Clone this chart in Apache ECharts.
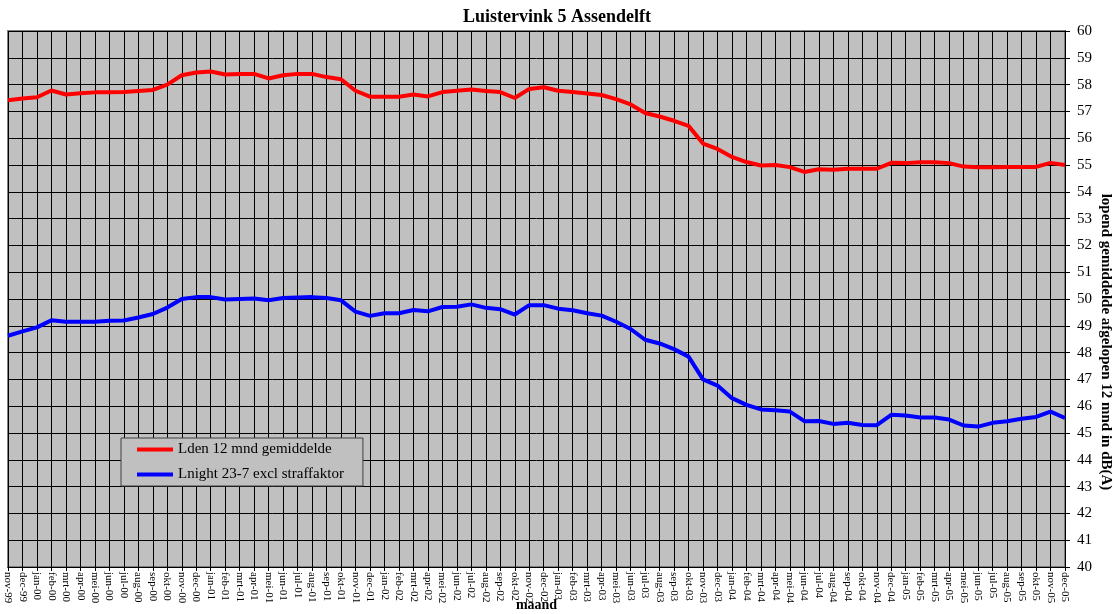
<!DOCTYPE html>
<html>
<head>
<meta charset="utf-8">
<script src="https://cdn.jsdelivr.net/npm/echarts@6/dist/echarts.min.js"></script>
<style>
html,body{margin:0;padding:0;background:#fff;}
#chart{width:1114px;height:614px;}
</style>
</head>
<body>
<div id="chart"></div>
<script>
const months = [
  'nov-99','dec-99',
  'jan-00','feb-00','mrt-00','apr-00','mei-00','jun-00','jul-00','aug-00','sep-00','okt-00','nov-00','dec-00',
  'jan-01','feb-01','mrt-01','apr-01','mei-01','jun-01','jul-01','aug-01','sep-01','okt-01','nov-01','dec-01',
  'jan-02','feb-02','mrt-02','apr-02','mei-02','jun-02','jul-02','aug-02','sep-02','okt-02','nov-02','dec-02',
  'jan-03','feb-03','mrt-03','apr-03','mei-03','jun-03','jul-03','aug-03','sep-03','okt-03','nov-03','dec-03',
  'jan-04','feb-04','mrt-04','apr-04','mei-04','jun-04','jul-04','aug-04','sep-04','okt-04','nov-04','dec-04',
  'jan-05','feb-05','mrt-05','apr-05','mei-05','jun-05','jul-05','aug-05','sep-05','okt-05','nov-05','dec-05'
];

const lden = [
  57.42,57.48,
  57.53,57.78,57.63,57.68,57.71,57.71,57.72,57.76,57.80,58.00,58.35,58.45,
  58.49,58.38,58.40,58.40,58.23,58.35,58.40,58.40,58.28,58.20,57.77,57.55,
  57.55,57.55,57.63,57.56,57.72,57.77,57.82,57.76,57.72,57.50,57.84,57.90,
  57.77,57.72,57.67,57.61,57.46,57.26,56.94,56.81,56.65,56.46,55.80,55.60,
  55.30,55.11,54.98,55.00,54.92,54.74,54.84,54.82,54.86,54.86,54.86,55.08,
  55.07,55.10,55.10,55.07,54.94,54.92,54.92,54.93,54.93,54.93,55.08,55.00
];

const lnight = [
  48.63,48.79,
  48.94,49.21,49.15,49.15,49.15,49.19,49.20,49.31,49.44,49.68,50.00,50.07,
  50.07,49.98,50.00,50.02,49.95,50.04,50.06,50.07,50.04,49.95,49.53,49.37,
  49.47,49.47,49.59,49.54,49.70,49.71,49.80,49.67,49.62,49.42,49.77,49.77,
  49.64,49.58,49.47,49.38,49.15,48.88,48.48,48.34,48.13,47.85,47.00,46.77,
  46.30,46.05,45.88,45.85,45.80,45.44,45.45,45.34,45.38,45.30,45.29,45.68,
  45.65,45.58,45.58,45.50,45.28,45.24,45.38,45.44,45.53,45.60,45.80,45.56
];

const seriesNames = ['Lden 12 mnd gemiddelde', 'Lnight 23-7 excl straffaktor'];
const titleText = 'Luistervink 5 Assendelft';
const xName = 'maand';
const yName = 'lopend gemiddelde afgelopen 12 mnd in dB(A)';

const serif = '"Liberation Serif", "DejaVu Serif", serif';
const chart = echarts.init(document.getElementById('chart'));
chart.setOption({
  animation: false,
  backgroundColor: '#ffffff',
  title: {
    text: titleText,
    left: 'center',
    top: 3,
    textStyle: {fontFamily: serif, fontSize: 18, fontWeight: 'bold', color: '#000'}
  },
  grid: {
    left: 8, right: 49, top: 31, bottom: 47,
    outerBoundsMode: 'none',
    containLabel: false,
    show: true,
    backgroundColor: '#c0c0c0',
    borderColor: '#808080',
    borderWidth: 2
  },
  legend: {
    orient: 'vertical',
    left: 121,
    top: 438,
    backgroundColor: '#c0c0c0',
    borderColor: '#404040',
    borderWidth: 1,
    padding: [4, 19, 4, 16],
    itemGap: 10,
    itemWidth: 36,
    itemHeight: 4,
    icon: 'rect',
    textStyle: {fontFamily: serif, fontSize: 15, lineHeight: 15, color: '#000'},
    data: seriesNames
  },
  xAxis: {
    type: 'category',
    data: months,
    boundaryGap: false,
    name: xName,
    nameLocation: 'middle',
    nameGap: 31,
    nameMoveOverlap: false,
    nameTextStyle: {fontFamily: serif, fontSize: 14, fontWeight: 'bold', color: '#000'},
    axisLine: {show: true, lineStyle: {color: '#000', width: 1}},
    axisTick: {show: true, interval: 0, length: 4, lineStyle: {color: '#000'}},
    axisLabel: {interval: 0, rotate: -90, margin: 5, fontFamily: serif, fontSize: 11, color: '#000'},
    splitLine: {show: true, interval: 0, lineStyle: {color: '#000', width: 1}}
  },
  yAxis: {
    type: 'value',
    position: 'right',
    min: 40, max: 60, interval: 1,
    axisLine: {show: true, lineStyle: {color: '#000', width: 1}},
    axisTick: {show: true, length: 5, inside: false, lineStyle: {color: '#000'}},
    axisLabel: {margin: 12, fontFamily: serif, fontSize: 15, color: '#000'},
    splitLine: {show: true, lineStyle: {color: '#000', width: 1}}
  },
  graphic: [{
    type: 'text',
    x: 1106,
    y: 342,
    rotation: -Math.PI / 2,
    style: {
      text: yName,
      fontFamily: serif,
      fontSize: 15,
      fontWeight: 'bold',
      fill: '#000',
      align: 'center',
      verticalAlign: 'middle'
    }
  }],
  series: [
    {
      name: seriesNames[0],
      type: 'line',
      data: lden,
      symbol: 'none',
      lineStyle: {color: '#ff0000', width: 4},
      itemStyle: {color: '#ff0000'}
    },
    {
      name: seriesNames[1],
      type: 'line',
      data: lnight,
      symbol: 'none',
      lineStyle: {color: '#0000ff', width: 4},
      itemStyle: {color: '#0000ff'}
    }
  ]
});
</script>
</body>
</html>
